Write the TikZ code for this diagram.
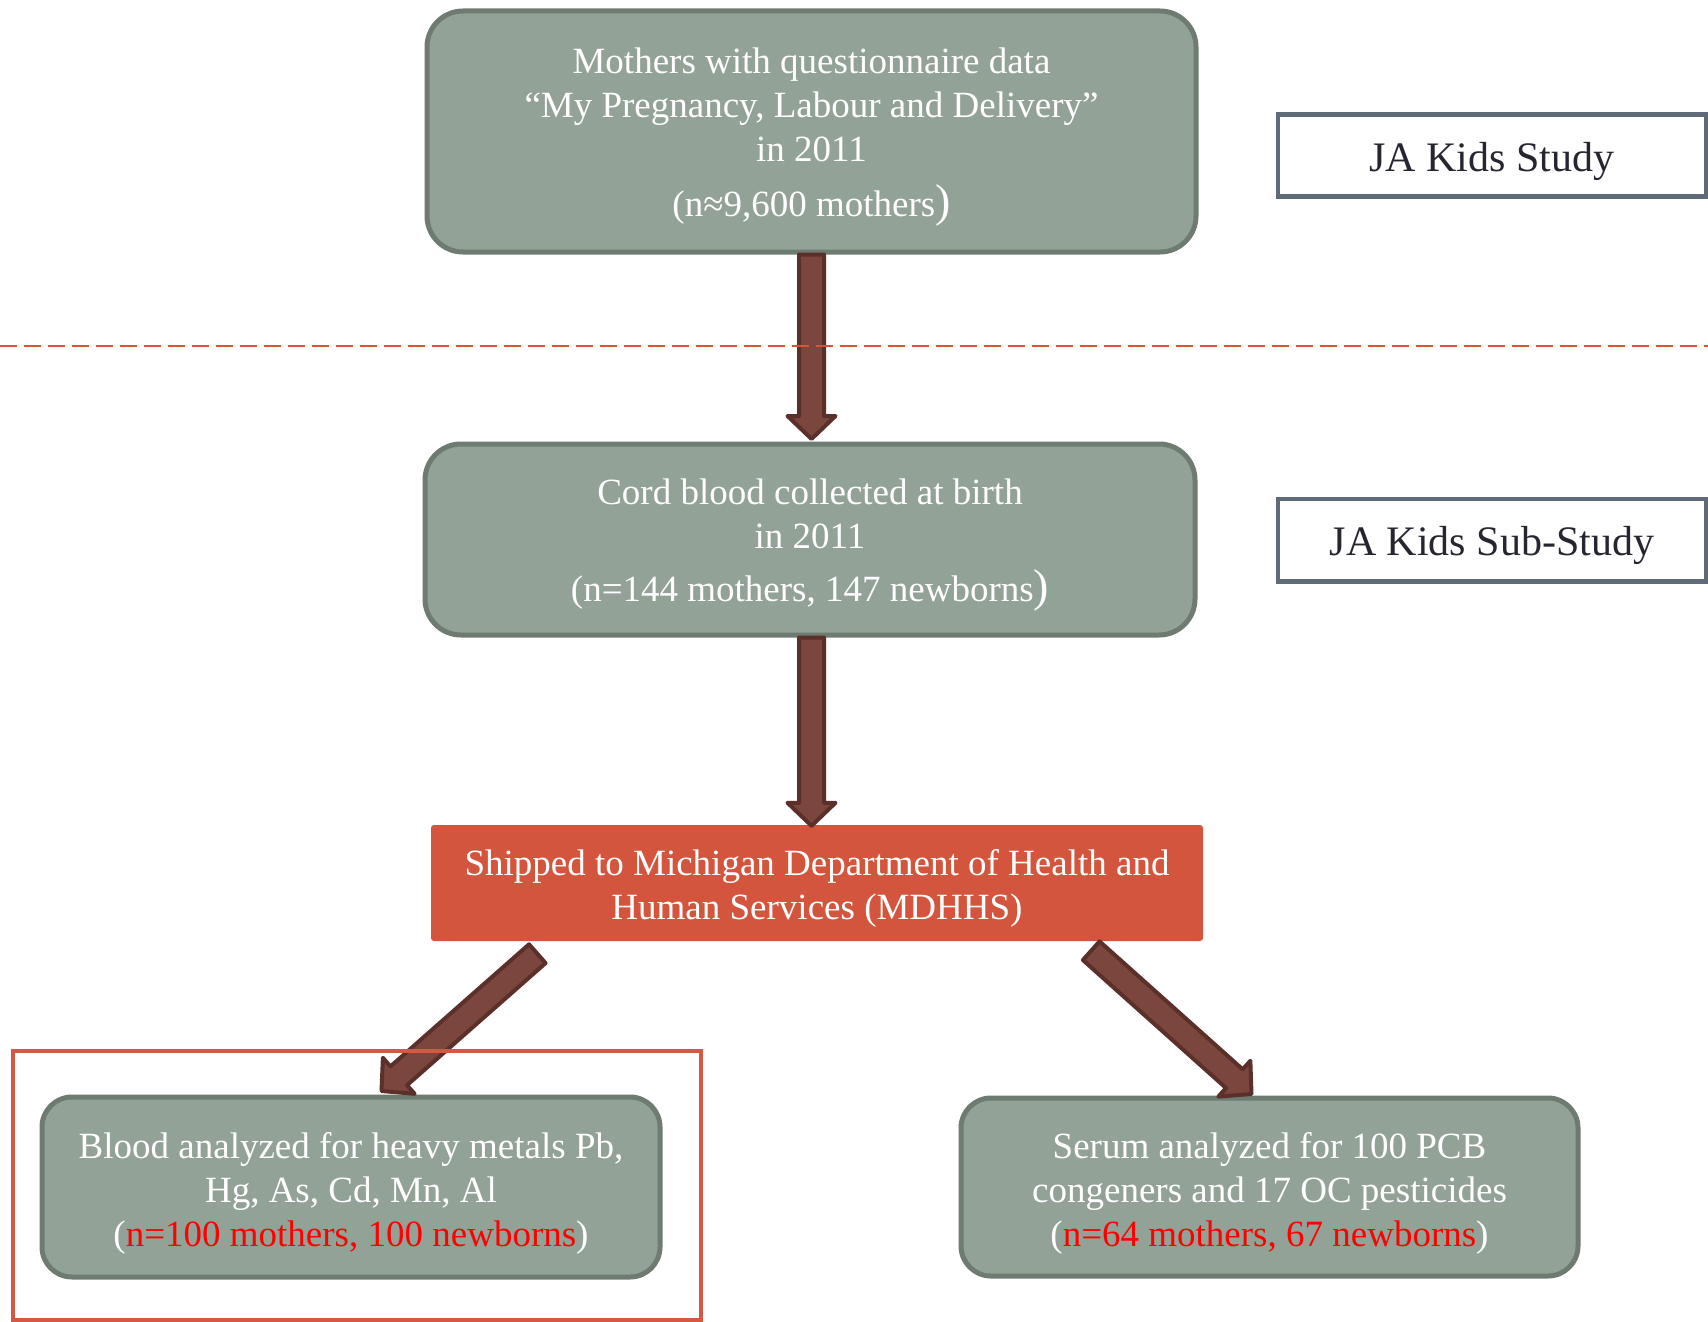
\documentclass[tikz,border=0pt]{standalone}
\usepackage{fontspec}
\setmainfont{Liberation Serif}
\usetikzlibrary{calc}
\definecolor{boxfill}{HTML}{92A297}
\definecolor{boxline}{HTML}{6E7B71}
\definecolor{arrfill}{HTML}{7B463D}
\definecolor{arrline}{HTML}{5B302A}
\definecolor{shipfill}{HTML}{D3553D}
\definecolor{sideline}{HTML}{5F6A79}
\definecolor{sidetext}{HTML}{262630}
\definecolor{dashred}{HTML}{D9533B}
\definecolor{hilite}{HTML}{D35A40}
\newcommand\blockarrow[2]{%
  \path (#1) coordinate (ba-s) (#2) coordinate (ba-e);
  \path ($(ba-e)!23pt!(ba-s)$) coordinate (ba-h);
  \draw[blockarrowstyle] ($(ba-s)!12.5pt!90:(ba-e)$) -- ($(ba-h)!12.5pt!90:(ba-e)$)
    -- ($(ba-h)!24pt!90:(ba-e)$) -- (ba-e) -- ($(ba-h)!24pt!-90:(ba-e)$)
    -- ($(ba-h)!12.5pt!-90:(ba-e)$) -- ($(ba-s)!12.5pt!-90:(ba-e)$) -- cycle;}
\begin{document}
\begin{tikzpicture}[x=1pt,y=-1pt,
  gbox/.style={draw=boxline, fill=boxfill, line width=5pt, rounded corners=36pt, inner sep=0pt},
  shipbox/.style={fill=shipfill, rounded corners=3pt, inner sep=0pt},
  sidebox/.style={draw=sideline, fill=white, line width=4.5pt, inner sep=0pt},
  wtext/.style={text=white, align=center, font=\fontsize{37}{44}\selectfont, inner sep=0pt},
  stext/.style={text=sidetext, font=\fontsize{42}{50}\selectfont, inner sep=0pt},
  blockarrowstyle/.style={fill=arrfill, draw=arrline, line width=4pt, line join=round},
  hlbox/.style={draw=hilite, line width=4pt, inner sep=0pt},
  sepline/.style={draw=dashred, line width=2pt, dash pattern=on 17pt off 7pt}]
\useasboundingbox (0,0) rectangle (1708,1322);

% main boxes
\node[gbox, minimum width=769, minimum height=241] (top) at (811.5,131.5) {};
\node[wtext] (toptxt) at ($(top.center)+(0,6)$)
  {Mothers with questionnaire data\\
   “My Pregnancy, Labour and Delivery”\\
   in 2011\\[11pt]
   (n≈9,600 mothers{\fontsize{46}{46}\selectfont )}};
\node[gbox, minimum width=770, minimum height=191] (mid) at (810,539.5) {};
\node[wtext] (midtxt) at ($(mid.center)+(0,6)$)
  {Cord blood collected at birth\\
   in 2011\\[9pt]
   (n=144 mothers, 147 newborns{\fontsize{46}{46}\selectfont )}};
\node[shipbox, minimum width=772, minimum height=116] (ship) at (817,883) {};
\node[wtext] (shiptxt) at ($(ship.center)+(0,5.5)$)
  {Shipped to Michigan Department of Health and\\
   Human Services (MDHHS)};
\node[gbox, rounded corners=30pt, minimum width=618, minimum height=180] (blood) at (351,1187) {};
\node[wtext] (bloodtxt) at ($(blood.center)+(0,6.5)$)
  {Blood analyzed for heavy metals Pb,\\
   Hg, As, Cd, Mn, Al\\
   (\textcolor{red}{n=100 mothers, 100 newborns})};
\node[gbox, rounded corners=30pt, minimum width=617, minimum height=178] (serum) at (1269.5,1187) {};
\node[wtext] (serumtxt) at ($(serum.center)+(0,6.5)$)
  {Serum analyzed for 100 PCB\\
   congeners and 17 OC pesticides\\
   (\textcolor{red}{n=64 mothers, 67 newborns})};

% side labels
\node[sidebox, minimum width=428, minimum height=82] (s1) at (1492,155.5) {};
\node[stext] (s1txt) at ($(s1.center)+(0,5.5)$) {JA Kids Study};
\node[sidebox, minimum width=428, minimum height=82.5] (s2) at (1492,540) {};
\node[stext] (s2txt) at ($(s2.center)+(0,5.5)$) {JA Kids Sub-Study};

% arrow end points
\coordinate (a1e) at ($(top.south |- mid.north)+(0,-2.5)$);
\coordinate (a2s) at (top.south |- mid.south);
\coordinate (a2e) at ($(top.south |- ship.north)+(0,1)$);
\coordinate (ltail) at ($(ship.south west)+(106.5,12.5)$);
\coordinate (ltip) at ($(blood.north)+(30.5,-3.5)$);
\coordinate (rtail) at ($(ship.south east)+(-112,9.5)$);
\coordinate (rtip) at ($(serum.north)+(-18,-1.5)$);

% arrows
\blockarrow{top.south}{a1e}
\blockarrow{a2s}{a2e}
\blockarrow{ltail}{ltip}
\blockarrow{rtail}{rtip}

% highlight frame
\node[hlbox, minimum width=688, minimum height=269] (hl) at (357,1185.5) {};

% separator
\coordinate (sepl) at (0,346);
\coordinate (sepr) at (1708,346);
\draw[sepline] (sepl) -- (sepr);
\end{tikzpicture}
\end{document}
